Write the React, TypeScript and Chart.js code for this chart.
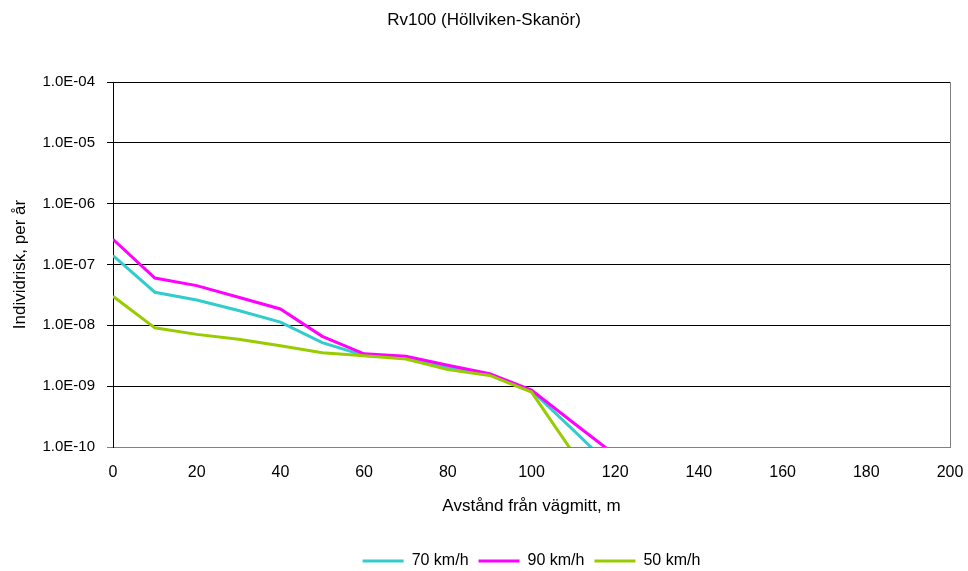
import React, { useEffect, useRef } from 'react';
import { Chart, registerables } from 'chart.js';

Chart.register(...registerables);

// ---- data ----
const xValues = [0, 10, 20, 30, 40, 50, 60, 70, 80, 90, 100, 110, 120];
const risk70 = [1.4e-7, 3.5e-8, 2.6e-8, 1.75e-8, 1.13e-8, 5.2e-9, 3.2e-9, 2.95e-9, 2.0e-9, 1.55e-9, 8.5e-10, 1.9e-10, 4.1e-11];
const risk90 = [2.6e-7, 6.0e-8, 4.5e-8, 2.9e-8, 1.86e-8, 6.6e-9, 3.4e-9, 3.1e-9, 2.2e-9, 1.6e-9, 8.6e-10, 2.5e-10, 7.4e-11];
const risk50 = [3.0e-8, 9.1e-9, 7.1e-9, 5.9e-9, 4.6e-9, 3.55e-9, 3.15e-9, 2.8e-9, 1.87e-9, 1.5e-9, 8.0e-10, 7.9e-11];
const yTickValues = [1e-10, 1e-9, 1e-8, 1e-7, 1e-6, 1e-5, 1e-4];
const xMin = 0;
const xMax = 200;
const xStep = 20;
const seriesLabels = ['70 km/h', '90 km/h', '50 km/h'];
const seriesColors = ['#33CCCC', '#FF00FF', '#99CC00'];
const chartTitle = 'Rv100 (Höllviken-Skanör)';
const xTitle = 'Avstånd från vägmitt, m';
const yTitle = 'Individrisk, per år';

const FONT = 'Liberation Sans, Arial, sans-serif';

const fmtExp = (v: number) => {
  const e = Math.round(Math.log10(v));
  const sign = e < 0 ? '-' : '+';
  return `1.0E${sign}${String(Math.abs(e)).padStart(2, '0')}`;
};

const toPoints = (arr: number[]) => arr.map((y, i) => ({ x: xValues[i], y }));

const legendCenter = {
  id: 'legendCenter',
  afterLayout(chart: any) {
    const l = chart.legend;
    if (l) {
      l.left = chart.chartArea.left;
      l.right = chart.chartArea.right;
      l.width = l.right - l.left;
    }
  },
};

export default function App() {
  const ref = useRef<HTMLCanvasElement | null>(null);

  useEffect(() => {
    document.body.style.margin = '0';
    const canvas = ref.current;
    if (!canvas) return;
    Chart.defaults.font.family = FONT;
    Chart.defaults.color = '#000';

    const series = [risk70, risk90, risk50];
    const orders = [2, 1, 0];
    const chart = new Chart(canvas, {
      type: 'line',
      data: {
        datasets: series.map((s, i) => ({
          label: seriesLabels[i],
          data: toPoints(s),
          borderColor: seriesColors[i],
          backgroundColor: seriesColors[i],
          borderWidth: 3,
          pointRadius: 0,
          tension: 0,
          fill: false,
          order: orders[i],
        })),
      },
      options: {
        responsive: false,
        animation: false,
        devicePixelRatio: 1,
        layout: { padding: { left: 0, right: 0, top: 0, bottom: -8 } },
        plugins: {
          title: {
            display: true,
            text: chartTitle,
            font: { size: 17, weight: 'normal', family: FONT },
            color: '#000',
            padding: { top: 10, bottom: 51.6 },
          },
          legend: {
            display: true,
            position: 'bottom',
            labels: {
              usePointStyle: true,
              pointStyle: 'line',
              pointStyleWidth: 41,
              padding: 10,
              font: { size: 16, family: FONT },
              color: '#000',
              sort: (a: any, b: any) => a.datasetIndex - b.datasetIndex,
            },
          },
          tooltip: { enabled: false },
        },
        scales: {
          x: {
            type: 'linear',
            min: xMin,
            max: xMax,
            afterFit: (scale: any) => {
              scale.height = 96;
              scale.paddingLeft = 0;
              scale.paddingRight = 18;
            },
            ticks: {
              stepSize: xStep,
              padding: 16,
              font: { size: 16, family: FONT },
              color: '#000',
            },
            grid: {
              display: true,
              drawTicks: false,
              color: (ctx: any) => (ctx.tick && ctx.tick.value === xMax ? '#808080' : 'rgba(0,0,0,0)'),
              lineWidth: 1,
            },
            border: { display: true, color: '#808080', width: 1 },
            title: {
              display: true,
              text: xTitle,
              font: { size: 17, family: FONT },
              color: '#000',
              padding: { top: 0, bottom: 26 },
            },
          },
          y: {
            type: 'logarithmic',
            min: yTickValues[0],
            max: yTickValues[yTickValues.length - 1],
            afterFit: (scale: any) => {
              scale.width = 113;
            },
            afterBuildTicks: (scale: any) => {
              scale.ticks = yTickValues.map((v) => ({ value: v }));
            },
            ticks: {
              callback: (v: any) => fmtExp(Number(v)),
              padding: 12,
              font: { size: 15, family: FONT },
              color: '#000',
              autoSkip: false,
            },
            grid: {
              display: true,
              drawTicks: true,
              tickLength: 6,
              color: (ctx: any) => (ctx.tick && ctx.tick.value === yTickValues[0] ? '#808080' : '#000'),
              lineWidth: 1,
            },
            border: { display: true, color: '#000', width: 1 },
            title: {
              display: true,
              text: yTitle,
              font: { size: 17, family: FONT },
              color: '#000',
              padding: { top: 10, bottom: 0 },
            },
          },
        },
      },
      plugins: [legendCenter],
    } as any);

    return () => {
      chart.destroy();
    };
  }, []);

  return (
    <div style={{ width: 968, height: 571, background: '#fff' }}>
      <canvas ref={ref} width={968} height={571} style={{ display: 'block' }} />
    </div>
  );
}
